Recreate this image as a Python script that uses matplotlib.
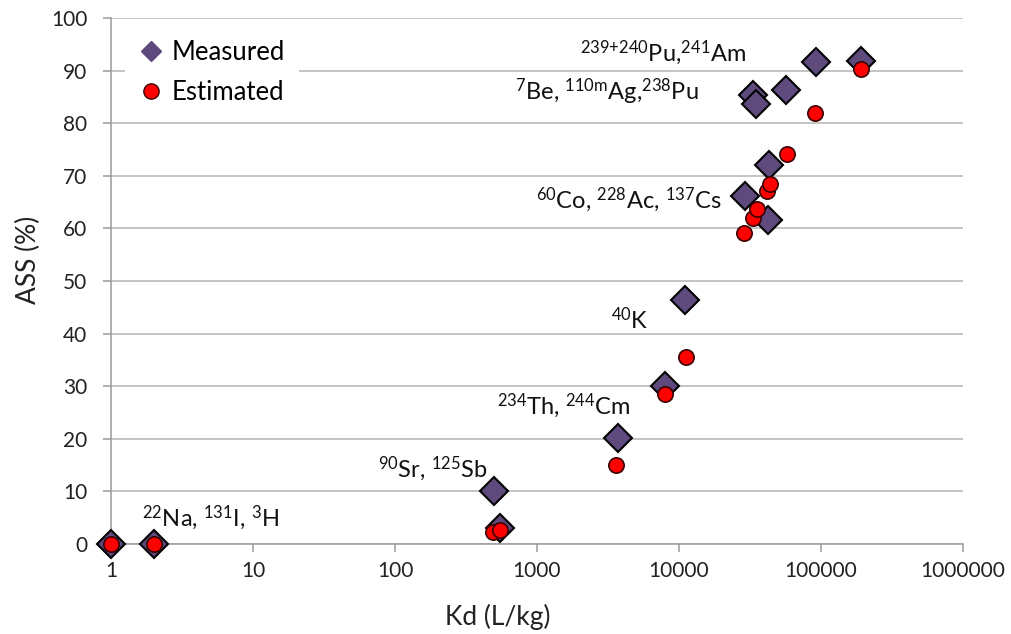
import matplotlib
matplotlib.use("Agg")
import matplotlib.pyplot as plt
from matplotlib.lines import Line2D

plt.rcParams['font.family'] = ['Lato', 'DejaVu Sans']
plt.rcParams['mathtext.fontset'] = 'custom'
plt.rcParams['mathtext.rm'] = 'Lato'
plt.rcParams['mathtext.it'] = 'Lato:italic'
plt.rcParams['mathtext.bf'] = 'Lato:bold'
plt.rcParams['mathtext.default'] = 'regular'

# measured ASS values vs Kd
meas_kd = [1, 2, 500, 550, 3700, 8000, 11000, 29000, 42000, 43000,
           33000, 35000, 57000, 92000, 190000]
meas_ass = [0, 0, 10, 3, 20.2, 30, 46.4, 66.2, 61.6, 72,
            85.4, 83.7, 86.3, 91.6, 91.8]

# estimated ASS values vs Kd
est_kd = [1, 2, 490, 550, 3600, 8000, 11200, 28600, 33000, 35300,
          41600, 44000, 57500, 90000, 191000]
est_ass = [0, 0, 2.3, 2.7, 15, 28.5, 35.5, 59.1, 62, 63.7,
           67.1, 68.4, 74.1, 82, 90.3]

# group labels: text, anchor Kd, ASS, alignment
label_text = [r'$^{239{+}240}$Pu,$^{241}$Am',
              r'$^{7}$Be, $^{110m}$Ag,$^{238}$Pu',
              r'$^{60}$Co, $^{228}$Ac, $^{137}$Cs',
              r'$^{40}$K',
              r'$^{234}$Th, $^{244}$Cm',
              r'$^{90}$Sr, $^{125}$Sb',
              r'$^{22}$Na, $^{131}$I, $^{3}$H']
label_kd = [29700, 13800, 19800, 6150, 4520, 444, 1.65]
label_ass = [93.5, 86, 65.4, 42.6, 26.4, 14.4, 5.1]
label_ha = ['right', 'right', 'right', 'right', 'right', 'right', 'left']

xticks = [1, 10, 100, 1000, 10000, 100000, 1000000]
yticks = list(range(0, 101, 10))

grid_c = '#b4b4b4'

fig = plt.figure(figsize=(10.12, 6.34), dpi=100)
ax = fig.add_axes([111 / 1012, 90 / 634, 852 / 1012, 526 / 634])

ax.set_xscale('log')
ax.set_xlim(1, 1e6)
ax.set_ylim(0, 100)

for y in yticks:
    ax.axhline(y, color=grid_c, lw=1.1, zorder=0)

ax.plot(meas_kd, meas_ass, ls='none', marker='D', ms=14.5, mfc='#5f4a7d',
        mec='black', mew=1.5, clip_on=False, zorder=3)
ax.plot(est_kd, est_ass, ls='none', marker='o', ms=11, mfc='#ff0000',
        mec='#3a0000', mew=1.2, clip_on=False, zorder=4)

for t, x, y, ha in zip(label_text, label_kd, label_ass, label_ha):
    ax.text(x, y, t, ha=ha, va='center', fontsize=17, color='#111111', zorder=5)

for s in ['top', 'right']:
    ax.spines[s].set_visible(False)
for s in ['left', 'bottom']:
    ax.spines[s].set_color('#9a9a9a')
    ax.spines[s].set_linewidth(1.1)

ax.set_xticks(xticks)
ax.set_xticklabels([str(v) for v in xticks])
ax.minorticks_off()
ax.set_yticks(yticks)
ax.tick_params(axis='x', direction='out', length=6, width=1.1, color='#9a9a9a',
               labelsize=15, pad=6, labelcolor='#222222')
ax.tick_params(axis='y', direction='out', length=6, width=1.1, color='#9a9a9a',
               labelsize=15, pad=11, labelcolor='#222222')

ax.set_xlabel('Kd (L/kg)', fontsize=19, color='#222222', va='center')
ax.xaxis.set_label_coords(0.454, -0.139)
ax.set_ylabel('ASS (%)', fontsize=19, color='#222222', va='center')
ax.yaxis.set_label_coords(-0.097, 0.54)

handles = [Line2D([], [], ls='none', marker='D', ms=10, mfc='#5f4a7d', mec='#5f4a7d'),
           Line2D([], [], ls='none', marker='o', ms=11, mfc='#ff0000', mec='#3a0000', mew=1)]
leg = ax.legend(handles, ['Measured', 'Estimated'], loc='upper left',
                bbox_to_anchor=(0.017, 0.985), fontsize=18.5, frameon=True,
                fancybox=False, framealpha=1, edgecolor='white',
                handlelength=0.9, handletextpad=0.35, borderpad=0.55,
                labelspacing=0.6, borderaxespad=0)
leg.get_frame().set_linewidth(0)
leg.set_zorder(6)

fig.savefig('out.png', dpi=100)
